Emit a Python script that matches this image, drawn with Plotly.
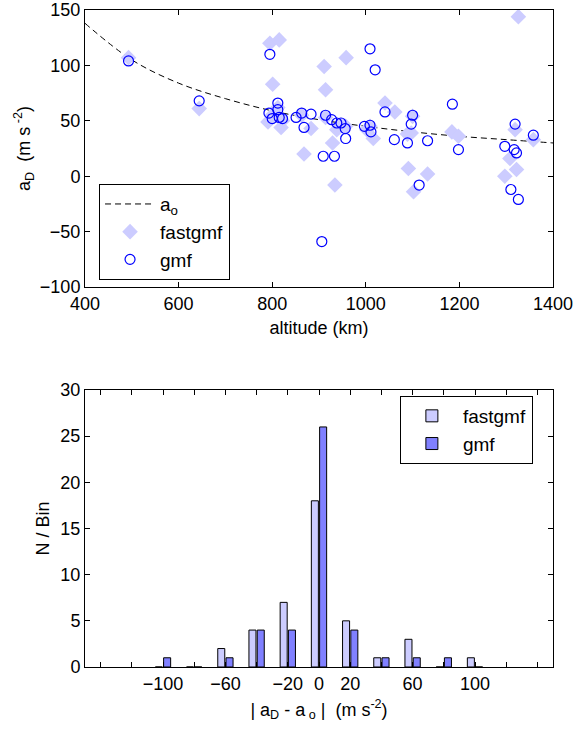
import plotly.graph_objects as go

# ---------------- top panel data ----------------
curve_alt = [400, 500, 600, 700, 800, 900, 1000, 1100, 1200, 1300, 1400]
curve_ao = [138, 105, 84, 70, 59, 51, 45, 40, 36, 33, 30]

fast_alt = [493, 644, 795, 815, 801, 791, 819, 883, 868, 911, 958, 914, 929, 938, 934,
            1041, 1062, 1002, 1016, 1097, 1184, 1198, 1326, 1319, 1358, 1308, 1322, 1297,
            1091, 1132, 1102,
            812, 800, 822, 863, 914, 947, 1009, 1100, 957, 1089]
fast_aD = [107, 61, 120, 123, 83, 49, 44, 43, 20, 99, 107, 78, 30, 42, -8,
           66, 58, 42, 34, 39, 40, 36, 144, 42, 33, 16, 6, 0,
           7, 2, -14,
           62, 55, 50, 55, 53, 46, 45, 54, 45, 38]

gmf_alt = [493, 644, 795, 812, 793, 812, 800, 815, 822, 851, 863, 883, 868, 914, 927,
           938, 947, 956, 957, 909, 933, 997, 1009, 1020, 1041, 1009, 1011, 1061, 1089,
           1097, 1100, 1132, 1185, 1198, 1319, 1358, 1297, 1317, 1322, 1310, 1326, 1114, 906]
gmf_aD = [104, 68, 110, 66, 57, 60, 52, 53, 52, 53, 57, 56, 44, 55, 51,
          48, 48, 43, 34, 18, 18, 45, 115, 96, 58, 46, 40, 33, 30,
          47, 55, 32, 65, 24, 47, 37, 27, 24, 21, -12, -21, -8, -59]

alt_ticks = [400, 600, 800, 1000, 1200, 1400]
aD_ticks = [-100, -50, 0, 50, 100, 150]

# ---------------- bottom panel data ----------------
bin_centers = [-100, -80, -60, -40, -20, 0, 20, 40, 60, 80, 100]
fast_counts = [0, 0, 2, 4, 7, 18, 5, 1, 3, 0, 1]
gmf_counts = [1, 0, 1, 4, 4, 26, 4, 1, 1, 1, 0]
diff_ticks = [-100, -60, -20, 0, 20, 60, 100]
count_ticks = [0, 5, 10, 15, 20, 25, 30]

LIGHT = 'rgb(204,204,255)'
MID = 'rgb(128,128,255)'
FONT = 'Liberation Sans, Arial, Helvetica, sans-serif'

fig = go.Figure()

fig.add_trace(go.Scatter(x=curve_alt, y=curve_ao, mode='lines', name='a<sub>o</sub>',
                         line=dict(color='black', width=1, dash='6px,4px', shape='spline'),
                         xaxis='x', yaxis='y', legend='legend'))
fig.add_trace(go.Scatter(x=fast_alt, y=fast_aD, mode='markers', name='fastgmf',
                         marker=dict(symbol='diamond', size=12, color=LIGHT, line=dict(width=0)),
                         xaxis='x', yaxis='y', legend='legend'))
fig.add_trace(go.Scatter(x=gmf_alt, y=gmf_aD, mode='markers', name='gmf',
                         marker=dict(symbol='circle-open', size=10, color='rgb(0,0,255)',
                                     line=dict(width=1.2, color='rgb(0,0,255)')),
                         xaxis='x', yaxis='y', legend='legend'))

fig.add_trace(go.Bar(x=bin_centers, y=fast_counts, name='fastgmf',
                     marker=dict(color=LIGHT, line=dict(color='black', width=1)),
                     xaxis='x2', yaxis='y2', legend='legend2'))
fig.add_trace(go.Bar(x=bin_centers, y=gmf_counts, name='gmf',
                     marker=dict(color=MID, line=dict(color='black', width=1)),
                     xaxis='x2', yaxis='y2', legend='legend2'))

axis_common = dict(showline=True, linecolor='black', linewidth=1, mirror='ticks',
                   ticks='inside', ticklen=5, tickcolor='black', showgrid=False,
                   zeroline=False, automargin=False,
                   tickfont=dict(size=18, color='black', family=FONT))

fig.update_layout(
    width=577, height=731,
    margin=dict(l=85, r=24, t=10, b=64, autoexpand=False),
    paper_bgcolor='white', plot_bgcolor='white',
    font=dict(family=FONT, color='black', size=18),
    showlegend=True,
    barmode='group', bargap=0.47, bargroupgap=0.15,
    xaxis=dict(domain=[0, 1], anchor='y', range=[400, 1400], tickvals=alt_ticks,
               title=dict(text='altitude (km)', font=dict(size=18), standoff=8),
               **axis_common),
    yaxis=dict(domain=[0.5784, 1.0], anchor='x', range=[-100, 150], tickvals=aD_ticks,
               title=dict(text='a<sub>D</sub>  (m s<sup> -2</sup>)', font=dict(size=18), standoff=4),
               **axis_common),
    xaxis2=dict(domain=[0, 1], anchor='y2', range=[-150, 150], tickvals=diff_ticks,
                minor=dict(dtick=20, tick0=0, ticks='inside', ticklen=5, tickcolor='black',
                           showgrid=False),
                title=dict(text='| a<sub>D</sub> - a<sub> o</sub> |  (m s<sup>-2</sup>)',
                           font=dict(size=18), standoff=10),
                **axis_common),
    yaxis2=dict(domain=[0, 0.4216], anchor='x2', range=[0, 30], tickvals=count_ticks,
                title=dict(text='N / Bin', font=dict(size=18), standoff=6),
                **axis_common),
    legend=dict(x=0.03, y=0.735, xanchor='left', yanchor='top',
                bordercolor='black', borderwidth=1, bgcolor='white',
                font=dict(size=19, family=FONT), itemwidth=50, tracegroupgap=0),
    legend2=dict(x=0.957, y=0.4125, xanchor='right', yanchor='top',
                 bordercolor='black', borderwidth=1, bgcolor='white',
                 font=dict(size=19, family=FONT), itemwidth=52, tracegroupgap=0),
)

fig.write_html('out.html')
